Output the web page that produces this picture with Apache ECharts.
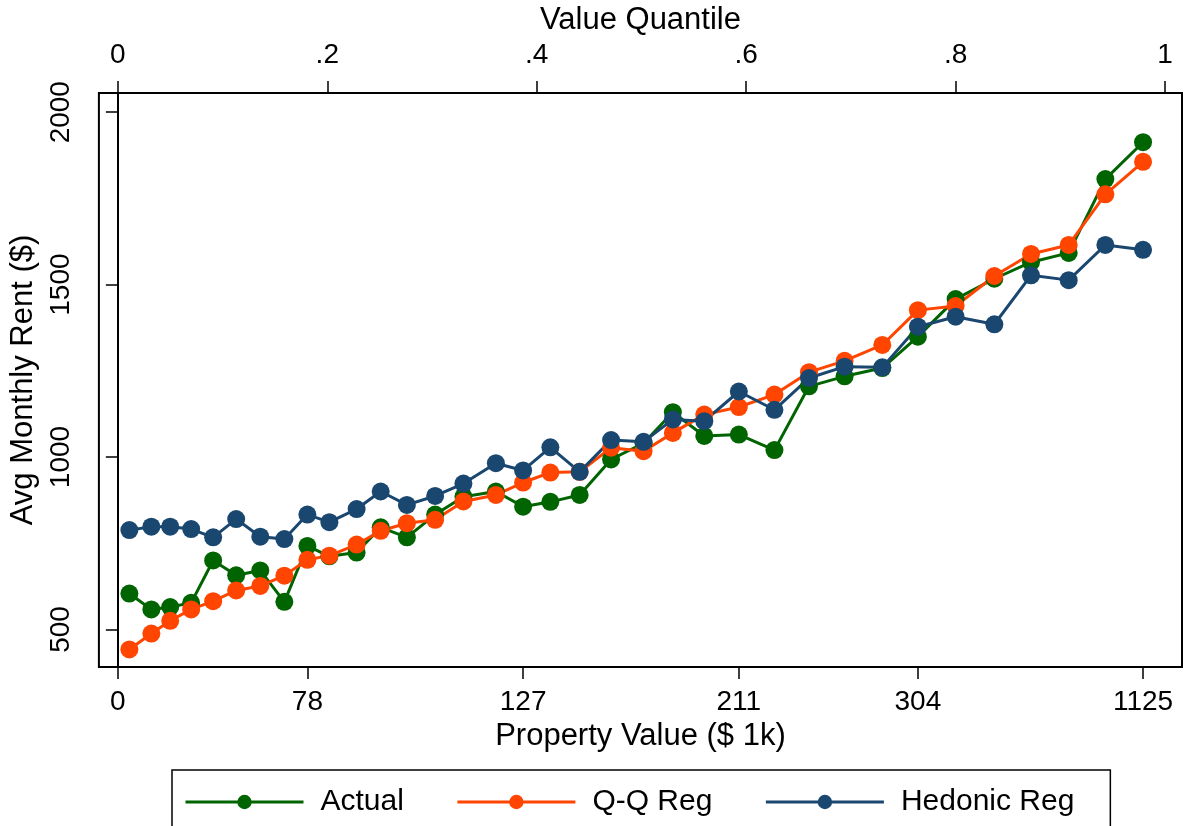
<!DOCTYPE html>
<html>
<head>
<meta charset="utf-8">
<script src="https://cdn.jsdelivr.net/npm/echarts@6/dist/echarts.min.js"></script>
<style>
  html, body { margin: 0; padding: 0; background: #fff; }
  #chart { width: 1187px; height: 826px; }
</style>
</head>
<body>
<div id="chart"></div>
<script>
// x position of each point, in value quantile units
var quantiles = [0.011, 0.032, 0.050, 0.070, 0.091, 0.113, 0.136, 0.159, 0.181, 0.202,
  0.228, 0.251, 0.276, 0.303, 0.330, 0.361, 0.387, 0.413, 0.441, 0.471,
  0.502, 0.530, 0.560, 0.593, 0.627, 0.660, 0.694, 0.730, 0.764, 0.800,
  0.837, 0.872, 0.908, 0.943, 0.979];

var actual = [604, 558, 565, 577, 700, 657, 671, 580, 742, 712,
  723, 796, 767, 833, 885, 900, 856, 870, 890, 993,
  1040, 1130, 1061, 1065, 1020, 1205, 1234, 1258, 1349, 1458,
  1517, 1565, 1592, 1806, 1913];

var qqReg = [442, 488, 525, 558, 582, 613, 626, 656, 702, 714,
  746, 786, 808, 818, 871, 890, 926, 955, 957, 1027,
  1017, 1070, 1123, 1145, 1181, 1246, 1279, 1325, 1426, 1438,
  1525, 1589, 1615, 1762, 1856];

var hedonicReg = [788, 798, 798, 791, 767, 820, 769, 762, 833, 811,
  849, 900, 861, 887, 923, 982, 961, 1028, 957, 1049,
  1044, 1109, 1104, 1190, 1137, 1229, 1262, 1260, 1378, 1407,
  1385, 1527, 1513, 1615, 1601];

// tick labels
var topTickValues = [0, 0.2, 0.4, 0.6, 0.8, 1];
var topTickLabels = ['0', '.2', '.4', '.6', '.8', '1'];
var bottomTickValues = [0, 0.181, 0.387, 0.593, 0.764, 0.979];
var bottomTickLabels = ['0', '78', '127', '211', '304', '1125'];
var yTickValues = [500, 1000, 1500, 2000];

var font = "'Liberation Sans', Arial, Helvetica, sans-serif";

function pairs(vals) {
  return vals.map(function (v, i) { return [quantiles[i], v]; });
}

function nearestLabel(v, values, labels) {
  var best = 0;
  for (var i = 1; i < values.length; i++) {
    if (Math.abs(values[i] - v) < Math.abs(values[best] - v)) best = i;
  }
  return labels[best];
}

var axisLineStyle = { color: '#000', width: 2 };
var tickStyle = { color: '#000', width: 1.5 };
var titleStyle = { fontSize: 31, color: '#000', fontFamily: font };

var chart = echarts.init(document.getElementById('chart'));
chart.setOption({
  animation: false,
  backgroundColor: '#fff',
  textStyle: { fontFamily: font, color: '#000' },
  grid: {
    left: 96, right: 5, top: 90, bottom: 159,
    show: true, borderColor: '#000', borderWidth: 2
  },
  legend: {
    data: ['Actual', 'Q-Q Reg', 'Hedonic Reg'],
    left: 172, top: 770,
    itemWidth: 118, itemHeight: 18, itemGap: 52,
    padding: [17, 36, 40, 12],
    borderColor: '#000', borderWidth: 1.5,
    lineStyle: { width: 3 },
    textStyle: { fontSize: 30, color: '#000', fontFamily: font, padding: [0, 0, 0, 12] }
  },
  xAxis: [
    {
      type: 'value', position: 'bottom',
      min: -0.0181, max: 1.0162,
      name: 'Property Value ($ 1k)', nameLocation: 'middle', nameGap: 52,
      nameTextStyle: titleStyle,
      axisLine: { lineStyle: axisLineStyle },
      axisTick: { length: 12, lineStyle: tickStyle, customValues: bottomTickValues },
      axisLabel: {
        fontSize: 28, color: '#000', fontFamily: font, margin: 21,
        customValues: bottomTickValues,
        formatter: function (v) { return nearestLabel(v, bottomTickValues, bottomTickLabels); }
      },
      splitLine: { show: false }
    },
    {
      type: 'value', position: 'top',
      min: -0.0181, max: 1.0162,
      name: 'Value Quantile', nameLocation: 'middle', nameGap: 56,
      nameTextStyle: titleStyle,
      axisLine: { lineStyle: axisLineStyle },
      axisTick: { length: 12, lineStyle: tickStyle, customValues: topTickValues },
      axisLabel: {
        fontSize: 28, color: '#000', fontFamily: font, margin: 24,
        customValues: topTickValues,
        formatter: function (v) { return nearestLabel(v, topTickValues, topTickLabels); }
      },
      splitLine: { show: false }
    }
  ],
  yAxis: {
    type: 'value', min: 391, max: 2056,
    name: 'Avg Monthly Rent ($)', nameLocation: 'middle', nameGap: 54, nameRotate: 90,
    nameTextStyle: titleStyle,
    axisLine: { lineStyle: axisLineStyle },
    axisTick: { length: 12, lineStyle: tickStyle, customValues: yTickValues },
    axisLabel: {
      fontSize: 28, color: '#000', fontFamily: font, margin: 24, rotate: 90,
      customValues: yTickValues,
      formatter: function (v) { return String(v); }
    },
    splitLine: { show: false }
  },
  series: [
    {
      name: 'Actual', type: 'line', data: pairs(actual),
      symbol: 'circle', symbolSize: 18,
      itemStyle: { color: '#006400' },
      lineStyle: { color: '#006400', width: 3 }
    },
    {
      name: 'Q-Q Reg', type: 'line', data: pairs(qqReg),
      symbol: 'circle', symbolSize: 18,
      itemStyle: { color: '#ff4500' },
      lineStyle: { color: '#ff4500', width: 3 }
    },
    {
      name: 'Hedonic Reg', type: 'line', data: pairs(hedonicReg),
      symbol: 'circle', symbolSize: 18,
      itemStyle: { color: '#1a476f' },
      lineStyle: { color: '#1a476f', width: 3 }
    }
  ]
});
</script>
</body>
</html>
